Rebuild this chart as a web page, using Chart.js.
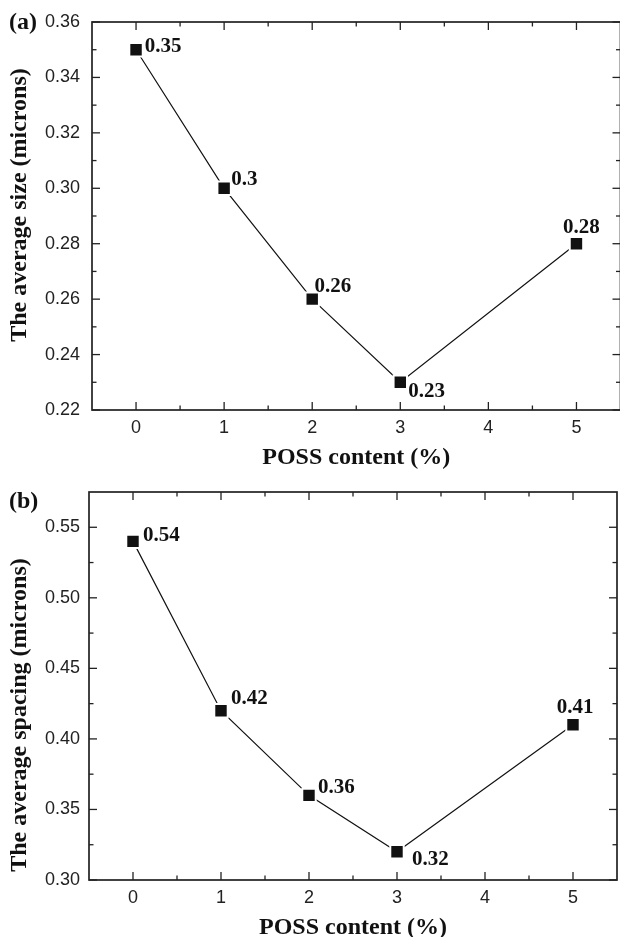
<!DOCTYPE html>
<html><head><meta charset="utf-8">
<script src="https://cdn.jsdelivr.net/npm/chart.js@4/dist/chart.umd.min.js"></script>
<style>
html,body{margin:0;padding:0;background:#fff;overflow:hidden;width:620px;height:937px;position:relative;}
.box{position:absolute;left:0;}
</style></head><body>
<div class="box" style="top:0;width:622px;height:472px"><canvas id="cA"></canvas></div>
<div class="box" style="top:472px;width:620px;height:470px"><canvas id="cB"></canvas></div>
<script>
// ---- data ----
const possContent = [0, 1, 2, 3, 5];
const avgSize = [0.35, 0.30, 0.26, 0.23, 0.28];
const avgSpacing = [0.54, 0.42, 0.36, 0.32, 0.41];
const xTickValues = [0, 1, 2, 3, 4, 5];
const sizeTickValues = [0.22, 0.24, 0.26, 0.28, 0.30, 0.32, 0.34, 0.36];
const spacingTickValues = [0.30, 0.35, 0.40, 0.45, 0.50, 0.55];
const xTitle = 'POSS content (%)';
const sizeTitle = 'The average size (microns)';
const spacingTitle = 'The average spacing (microns)';

// ---- styles / placement (not data) ----
const labelPlaceA = [
  {dx: 8.7, dy: 2.4, align: 'left'},
  {dx: 7.2, dy: -3.3, align: 'left'},
  {dx: 2.3, dy: -7.6, align: 'left'},
  {dx: 8, dy: 14.7, align: 'left'},
  {dx: 5, dy: -11, align: 'center'}
];
const labelPlaceB = [
  {dx: 10, dy: 0, align: 'left'},
  {dx: 10, dy: -6.7, align: 'left'},
  {dx: 9, dy: -2.3, align: 'left'},
  {dx: 15, dy: 13, align: 'left'},
  {dx: 2, dy: -11.5, align: 'center'}
];

const framePlugin = {
  id: 'frame',
  afterDatasetsDraw(chart, args, opts) {
    const ctx = chart.ctx;
    const meta = chart.getDatasetMeta(0);
    const ds = chart.data.datasets[0];
    ctx.save();
    ctx.font = 'bold 21px "Liberation Serif"';
    ctx.fillStyle = '#111';
    ctx.textBaseline = 'alphabetic';
    meta.data.forEach((pt, i) => {
      const p = opts.labelPlace[i];
      ctx.textAlign = p.align;
      ctx.fillText(String(ds.data[i].y), pt.x + p.dx, pt.y + p.dy);
    });
    ctx.restore();
  },
  afterDraw(chart, args, opts) {
    const {ctx, chartArea: a, scales: {x, y}} = chart;
    ctx.save();
    ctx.strokeStyle = '#222';
    const line = (x1, y1, x2, y2) => { ctx.beginPath(); ctx.moveTo(x1, y1); ctx.lineTo(x2, y2); ctx.stroke(); };
    ctx.lineWidth = 1.3;
    const tickX = (v, len) => { const px = x.getPixelForValue(v); line(px, a.bottom, px, a.bottom - len); line(px, a.top, px, a.top + len); };
    const tickY = (v, len) => { const py = y.getPixelForValue(v); line(a.left, py, a.left + len, py); line(a.right, py, a.right - len, py); };
    const xs = opts.xTicks, ys = opts.yTicks;
    xs.forEach(v => tickX(v, 8));
    for (let i = 0; i < xs.length - 1; i++) tickX((xs[i] + xs[i + 1]) / 2, 4.5);
    ys.forEach(v => tickY(v, 8));
    for (let i = 0; i < ys.length - 1; i++) tickY((ys[i] + ys[i + 1]) / 2, 4.5);
    ctx.lineWidth = 1.7;
    ctx.strokeRect(a.left, a.top, a.right - a.left, a.bottom - a.top);
    // y title
    ctx.fillStyle = '#111';
    ctx.font = 'bold 24px "Liberation Serif"';
    ctx.save();
    ctx.translate(opts.yTitleX, (a.top + a.bottom) / 2 + opts.yTitleOffset);
    ctx.rotate(-Math.PI / 2);
    ctx.textAlign = 'center';
    ctx.textBaseline = 'middle';
    ctx.fillText(opts.yTitle, 0, 0);
    ctx.restore();
    // panel label
    ctx.textAlign = 'left';
    ctx.textBaseline = 'alphabetic';
    ctx.fillText(opts.panel, 9, opts.panelBaseline);
    ctx.restore();
  }
};

function makeChart(id, values, yMin, yMax, yTicks, cfg) {
  const pts = possContent.map((v, i) => ({x: v, y: values[i]}));
  return new Chart(document.getElementById(id), {
    type: 'line',
    data: {datasets: [{
      data: pts,
      borderColor: '#111', borderWidth: 1.2, tension: 0, clip: false,
      pointStyle: 'rect', pointRadius: 9.5, pointHoverRadius: 9.5,
      pointBackgroundColor: '#111', pointBorderColor: '#fff', pointBorderWidth: 2
    }]},
    options: {
      responsive: true, maintainAspectRatio: false, devicePixelRatio: 1, animation: false,
      layout: {autoPadding: false, padding: {top: cfg.padTop, right: cfg.padRight, left: 0, bottom: 0}},
      plugins: {
        legend: {display: false}, tooltip: {enabled: false},
        frame: {labelPlace: cfg.labelPlace, xTicks: xTickValues, yTicks: yTicks,
          yTitle: cfg.yTitle, yTitleX: 20, yTitleOffset: cfg.yTitleOffset,
          panel: cfg.panel, panelBaseline: cfg.panelBaseline}
      },
      scales: {
        x: {
          type: 'linear', min: -0.5, max: 5.5,
          afterBuildTicks: s => { s.ticks = xTickValues.map(v => ({value: v})); },
          ticks: {callback: v => String(v), font: {family: 'Liberation Sans', size: 18}, color: '#222', padding: 7, maxRotation: 0, autoSkip: false},
          grid: {display: false, drawTicks: false}, border: {display: false},
          title: {display: true, text: xTitle, font: {family: 'Liberation Serif', size: 24, weight: 'bold', lineHeight: 1.2}, color: '#111', padding: 0},
          afterFit: s => { s.height = cfg.xHeight; s.paddingLeft = 0; s.paddingRight = 0; }
        },
        y: {
          type: 'linear', min: yMin, max: yMax,
          afterBuildTicks: s => { s.ticks = yTicks.map(v => ({value: v})); },
          ticks: {callback: v => v.toFixed(2), font: {family: 'Liberation Sans', size: 18}, color: '#222', padding: cfg.yPad, autoSkip: false},
          grid: {display: false, drawTicks: false}, border: {display: false},
          afterFit: s => { s.width = cfg.yWidth; s.paddingTop = 0; s.paddingBottom = 0; }
        }
      }
    },
    plugins: [framePlugin]
  });
}

makeChart('cA', avgSize, 0.22, 0.36, sizeTickValues, {
  padTop: 22, padRight: 1.5, xHeight: 62, yWidth: 92, yPad: 12,
  labelPlace: labelPlaceA, yTitle: sizeTitle, yTitleOffset: -11, panel: '(a)', panelBaseline: 29
});
makeChart('cB', avgSpacing, 0.30, 0.575, spacingTickValues, {
  padTop: 20, padRight: 3, xHeight: 62, yWidth: 89, yPad: 9,
  labelPlace: labelPlaceB, yTitle: spacingTitle, yTitleOffset: 29, panel: '(b)', panelBaseline: 36
});
</script>
</body></html>
